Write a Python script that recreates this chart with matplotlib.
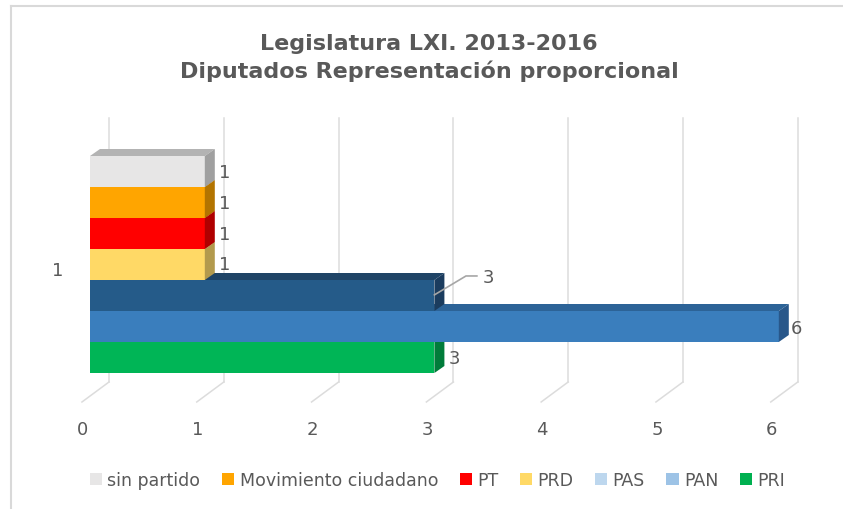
import matplotlib
matplotlib.use("Agg")
import matplotlib.pyplot as plt
from matplotlib.patches import Polygon, Patch

# data (legend order, top bar first)
parties = ["sin partido", "Movimiento ciudadano", "PT", "PRD", "PAS", "PAN", "PRI"]
seats = [1, 1, 1, 1, 3, 6, 3]
category = "1"
ticks = [0, 1, 2, 3, 4, 5, 6]

front_colors = ["#E7E6E6", "#FFA500", "#FF0000", "#FFD966", "#255B89", "#3A7EBD", "#00B556"]
top_colors = ["#B3B3B3", "#C07C00", "#BF0000", "#BFA34D", "#1F4466", "#2C6397", "#00843F"]
side_colors = ["#A0A0A0", "#B37400", "#B00000", "#B39A4D", "#1B3C5E", "#28578A", "#007C3A"]
legend_colors = ["#E7E6E6", "#FFA500", "#FF0000", "#FFD966", "#BDD7EE", "#9DC3E6", "#00B050"]

W, H = 843, 510
X0, SX = 90, 114.8   # pixel of value 0, pixels per unit
Y0, SY = 374, 31.0   # pixel of bottom bar, pixels per bar
DX, DY = 10 / SX, 7 / SY  # 3d depth
WALL = 19 / SX
grey = "#595959"

fig = plt.figure(figsize=(W / 100, H / 100), dpi=100)
ax = fig.add_axes([0, 0, 1, 1])
ax.set_xlim(-X0 / SX, (W - X0) / SX)
ax.set_ylim((Y0 - H) / SY, Y0 / SY)
ax.axis("off")

# back wall gridlines + floor lines
for t in ticks:
    ax.plot([t + WALL, t + WALL], [-0.29, 8.23], color="#DCDCDC", lw=1.1, zorder=0)
    ax.plot([t + WALL, t - 0.07], [-0.29, -0.935], color="#DCDCDC", lw=1.1, zorder=0)
    ax.text(t - 0.061, -1.81, str(t), ha="center", va="center", fontsize=13, color=grey)

n = len(parties)
for k in range(n - 1, -1, -1):
    i = n - 1 - k
    v = seats[k]
    z = 2 + i
    ax.barh(i, v, height=1, left=0, align="edge", color=front_colors[k], lw=0, zorder=z)
    top = [(0, i + 1), (DX, i + 1 + DY), (v + DX, i + 1 + DY), (v, i + 1)]
    side = [(v, i), (v + DX, i + DY), (v + DX, i + 1 + DY), (v, i + 1)]
    ax.add_patch(Polygon(top, closed=True, color=top_colors[k], lw=0, zorder=z))
    ax.add_patch(Polygon(side, closed=True, color=side_colors[k], lw=0, zorder=z))

    if parties[k] == "PAS":
        ax.plot([v, v + 0.275, v + 0.37], [i + 0.52, i + 1.13, i + 1.13],
                color="#A6A6A6", lw=1.2, zorder=20)
        ax.text(v + 0.42, i + 1.1, str(v), ha="left", va="center", fontsize=13, color=grey, zorder=20)
    elif parties[k] == "PAN":
        ax.text(v + 0.1, i + 0.45, str(v), ha="left", va="center", fontsize=13, color=grey, zorder=20)
    else:
        ax.text(v + 0.125, i + 0.5, str(v), ha="left", va="center", fontsize=13, color=grey, zorder=20)

ax.text(-0.279, 3.32, category, ha="center", va="center", fontsize=13, color=grey)

fig.text(0.509, 1 - 58 / H, "Legislatura LXI. 2013-2016\nDiputados Representación proporcional",
         ha="center", va="center", fontsize=16, fontweight="bold", color=grey, linespacing=1.4)

handles = [Patch(facecolor=c, edgecolor="none") for c in legend_colors]
fig.legend(handles, parties, loc="center", bbox_to_anchor=(0.519, 1 - 481 / H), ncol=7,
           frameon=False, fontsize=12.5, labelcolor=grey, handlelength=0.7, handleheight=0.7,
           handletextpad=0.3, columnspacing=1.25, borderpad=0)

# chart frame
ax.plot([(11 - X0) / SX, (W - X0) / SX], [(Y0 - 7) / SY] * 2, color="#D9D9D9", lw=1.5, zorder=0)
ax.plot([(11 - X0) / SX] * 2, [(Y0 - 7) / SY, (Y0 - H) / SY], color="#D9D9D9", lw=1.5, zorder=0)

fig.savefig("out.png", dpi=100)
